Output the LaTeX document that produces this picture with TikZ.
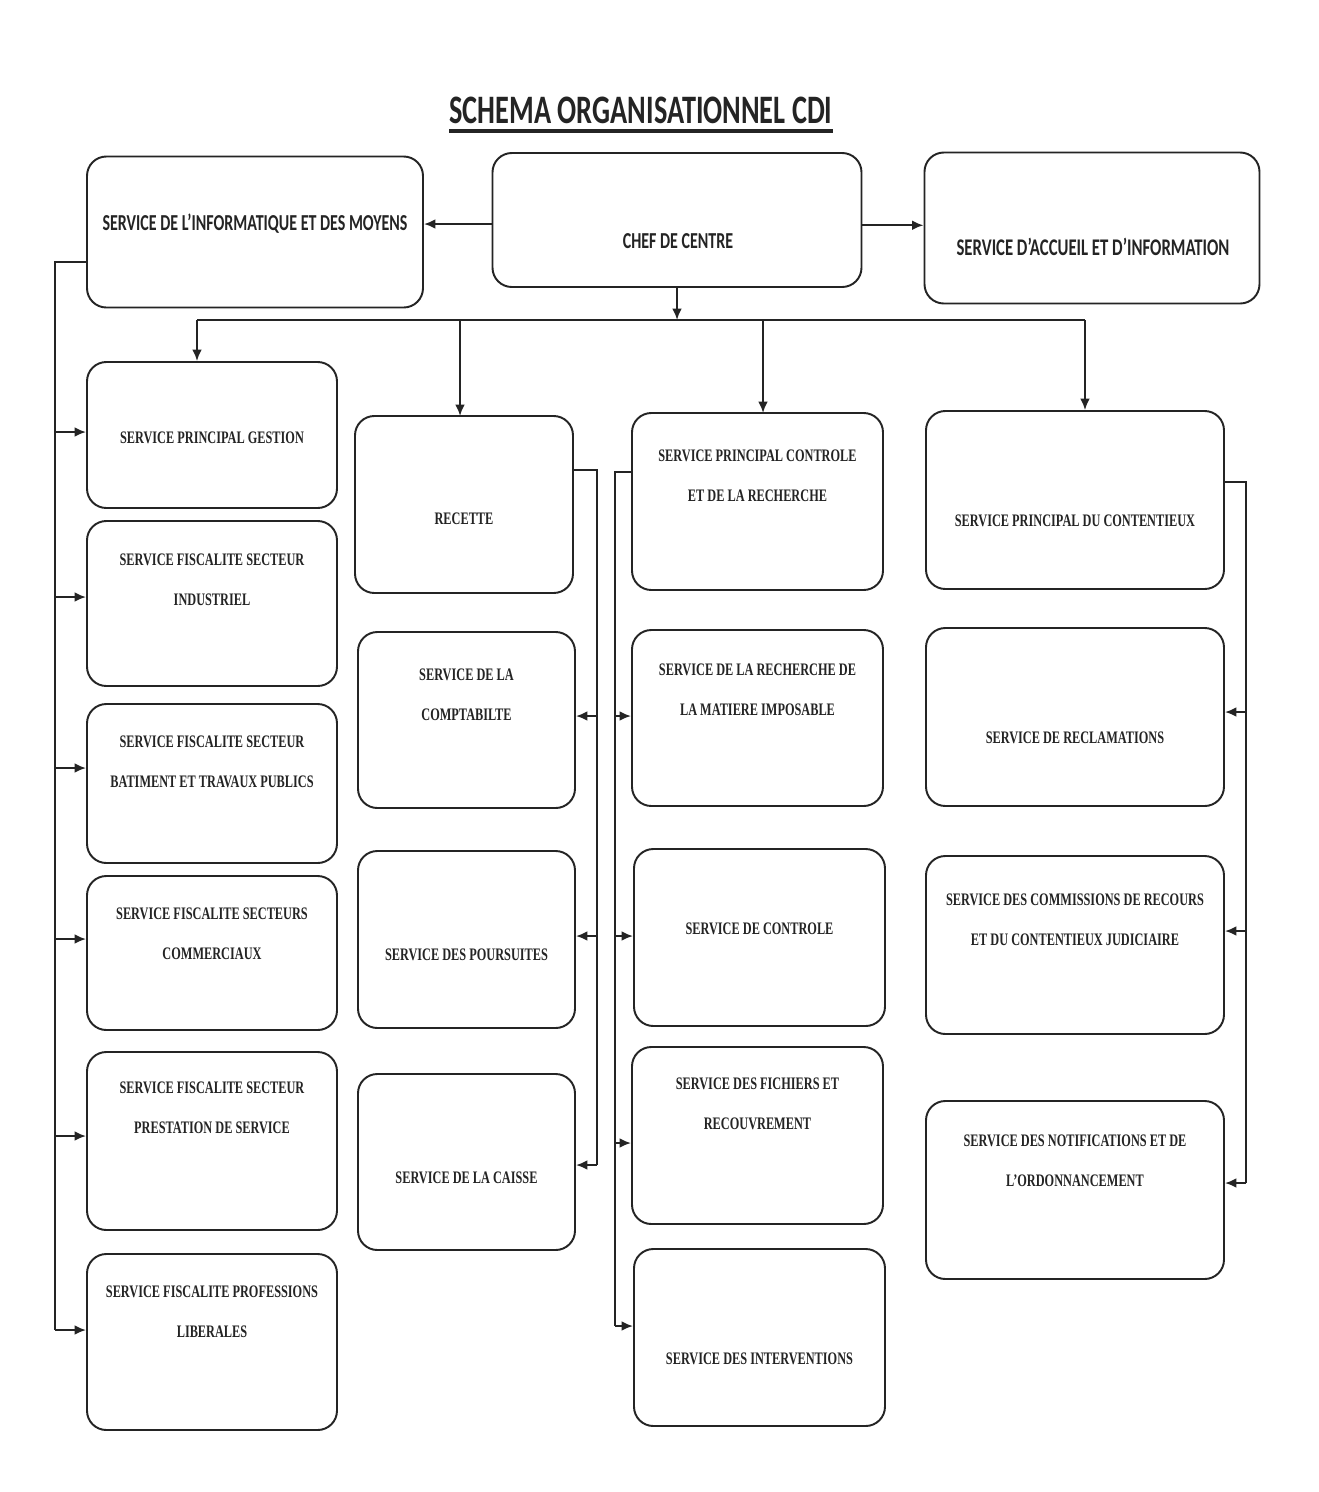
\documentclass[tikz,border=0pt]{standalone}
\usepackage{fontspec}
\usetikzlibrary{arrows.meta}
\newfontfamily\serfont[FakeStretch=0.7]{Liberation Serif}
\newfontfamily\calfont[FakeStretch=0.7]{Carlito}
\definecolor{ink}{HTML}{242424}
\tikzset{
  box/.style={draw=ink, line width=1.1pt, rounded corners=11pt, inner sep=0pt},
  txt/.style={text=ink, align=center, inner sep=0pt, font=\serfont\bfseries\fontsize{10}{23}\selectfont},
  toptxt/.style={text=ink, align=center, inner sep=0pt, font=\calfont\bfseries\fontsize{13}{15}\selectfont},
  wire/.style={draw=ink, line width=1.1pt},
  arr/.style={wire, -{Latex[length=6.5pt,width=5.5pt]}},
}
\newcommand\mkbox[7]{%
  \node[box, minimum width={(#4-#2)*0.02cm}, minimum height={(#5-#3)*0.02cm}] (#1) at ({(#2+#4)/2},{(#3+#5)/2}) {};
  \node[txt] (#1t) at ({(#2+#4)/2},#6) {#7};}
\begin{document}
\begin{tikzpicture}[x=0.02cm,y=-0.02cm]
\useasboundingbox[fill=white] (0,0) rectangle (1319,1492);
% title
\node[text=ink, inner sep=0pt, font=\calfont\bfseries\fontsize{23}{25}\selectfont] (title) at (641,110) {SCHEMA ORGANISATIONNEL CDI};
\draw[ink, line width=2pt] (title.south west) ++(0,-4pt) -- ([yshift=-4pt]title.south east);
% top row
\node[box, minimum width={336*0.02cm}, minimum height={151*0.02cm}] (info) at (255,232) {};
\node[toptxt] (infot) at (255,224) {SERVICE DE L’INFORMATIQUE ET DES MOYENS};
\node[box, minimum width={369*0.02cm}, minimum height={134*0.02cm}] (chef) at (677,220) {};
\node[toptxt] (cheft) at (678,241) {CHEF DE CENTRE};
\node[box, minimum width={335*0.02cm}, minimum height={151*0.02cm}] (acc) at (1092,228) {};
\node[toptxt, font=\calfont\bfseries\fontsize{13.6}{15}\selectfont] (acct) at (1093,247) {SERVICE D’ACCUEIL ET D’INFORMATION};
% column 1
\mkbox{spg}{87}{362}{337}{508}{438}{SERVICE PRINCIPAL GESTION}
\mkbox{sfi}{87}{521}{337}{686}{580}{SERVICE FISCALITE SECTEUR\\INDUSTRIEL}
\mkbox{sfb}{87}{704}{337}{863}{762}{SERVICE FISCALITE SECTEUR\\BATIMENT ET TRAVAUX PUBLICS}
\mkbox{sfc}{87}{876}{337}{1030}{934}{SERVICE FISCALITE SECTEURS\\COMMERCIAUX}
\mkbox{sfp}{87}{1052}{337}{1230}{1108}{SERVICE FISCALITE SECTEUR\\PRESTATION DE SERVICE}
\mkbox{sfl}{87}{1254}{337}{1430}{1312}{SERVICE FISCALITE PROFESSIONS\\LIBERALES}
% column 2
\mkbox{rec}{355}{416}{573}{593}{519}{RECETTE}
\mkbox{cpt}{358}{632}{575}{808}{695}{SERVICE DE LA\\COMPTABILTE}
\mkbox{pou}{358}{851}{575}{1028}{955}{SERVICE DES POURSUITES}
\mkbox{cai}{358}{1074}{575}{1250}{1178}{SERVICE DE LA CAISSE}
% column 3
\mkbox{spc}{632}{413}{883}{590}{476}{SERVICE PRINCIPAL CONTROLE\\ET DE LA RECHERCHE}
\mkbox{srm}{632}{630}{883}{806}{690}{SERVICE DE LA RECHERCHE DE\\LA MATIERE IMPOSABLE}
\mkbox{sco}{634}{849}{885}{1026}{929}{SERVICE DE CONTROLE}
\mkbox{sfr}{632}{1047}{883}{1224}{1104}{SERVICE DES FICHIERS ET\\RECOUVREMENT}
\mkbox{sin}{634}{1249}{885}{1426}{1359}{SERVICE DES INTERVENTIONS}
% column 4
\mkbox{spx}{926}{411}{1224}{589}{521}{SERVICE PRINCIPAL DU CONTENTIEUX}
\mkbox{srl}{926}{628}{1224}{806}{738}{SERVICE DE RECLAMATIONS}
\mkbox{scr}{926}{856}{1224}{1034}{920}{SERVICE DES COMMISSIONS DE RECOURS\\ET DU CONTENTIEUX JUDICIAIRE}
\mkbox{sno}{926}{1101}{1224}{1279}{1161}{SERVICE DES NOTIFICATIONS ET DE\\L’ORDONNANCEMENT}
% top arrows
\draw[arr] (chef.west |- infot) -- (info.east |- infot);
\draw[arr] ([yshift=-3pt]chef.east) -- ([yshift=-3pt]chef.east -| acc.west);
% main bus
\coordinate (busL) at (197,320);
\coordinate (busR) at (1085,320);
\draw[arr] (chef.south) -- (chef.south |- busL);
\draw[wire] (busL) -- (busR);
\draw[arr] (busL) -- (busL |- spg.north);
\draw[arr] (460,320) -- (460,416);
\draw[arr] (763,320) -- (763,413);
\draw[arr] (busR) -- (busR |- spx.north);
% left bus
\coordinate (L0) at (55,262);
\coordinate (L1) at (55,432);
\coordinate (L2) at (55,597);
\coordinate (L3) at (55,768);
\coordinate (L4) at (55,939);
\coordinate (L5) at (55,1136);
\coordinate (L6) at (55,1330);
\draw[wire] (L0 -| info.west) -- (L0) -- (L6);
\draw[arr] (L1) -- (L1 -| spg.west);
\draw[arr] (L2) -- (L2 -| sfi.west);
\draw[arr] (L3) -- (L3 -| sfb.west);
\draw[arr] (L4) -- (L4 -| sfc.west);
\draw[arr] (L5) -- (L5 -| sfp.west);
\draw[arr] (L6) -- (L6 -| sfl.west);
% column 2 bus
\coordinate (R0) at (597,470);
\coordinate (R1) at (597,716);
\coordinate (R2) at (597,936);
\coordinate (R3) at (597,1165);
\draw[wire] (R0 -| rec.east) -- (R0) -- (R3);
\draw[arr] (R1) -- (R1 -| cpt.east);
\draw[arr] (R2) -- (R2 -| pou.east);
\draw[arr] (R3) -- (R3 -| cai.east);
% column 3 bus
\coordinate (C0) at (615,472);
\coordinate (C1) at (615,716);
\coordinate (C2) at (615,936);
\coordinate (C3) at (615,1143);
\coordinate (C4) at (615,1326);
\draw[wire] (C0 -| spc.west) -- (C0) -- (C4);
\draw[arr] (C1) -- (C1 -| srm.west);
\draw[arr] (C2) -- (C2 -| sco.west);
\draw[arr] (C3) -- (C3 -| sfr.west);
\draw[arr] (C4) -- (C4 -| sin.west);
% column 4 bus
\coordinate (D0) at (1246,482);
\coordinate (D1) at (1246,712);
\coordinate (D2) at (1246,931);
\coordinate (D3) at (1246,1183);
\draw[wire] (D0 -| spx.east) -- (D0) -- (D3);
\draw[arr] (D1) -- (D1 -| srl.east);
\draw[arr] (D2) -- (D2 -| scr.east);
\draw[arr] (D3) -- (D3 -| sno.east);
\end{tikzpicture}
\end{document}
